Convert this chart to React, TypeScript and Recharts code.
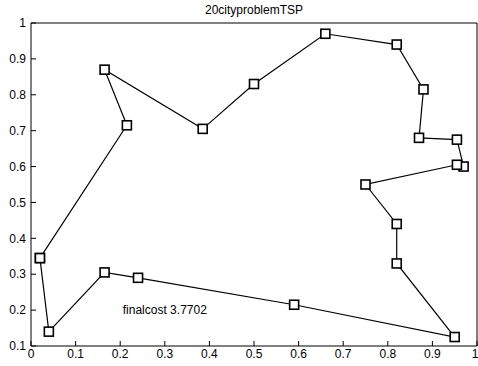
import React from "react";
import { ReferenceDot, Scatter, ScatterChart, XAxis, YAxis } from "recharts";

// city coordinates, in visiting order (tour closes back on the first city)
const tourX = [0.02, 0.215, 0.165, 0.385, 0.5, 0.66, 0.82, 0.88, 0.87, 0.955, 0.97, 0.955, 0.75, 0.82, 0.82, 0.95, 0.59, 0.24, 0.165, 0.04];
const tourY = [0.345, 0.715, 0.87, 0.705, 0.83, 0.97, 0.94, 0.815, 0.68, 0.675, 0.6, 0.605, 0.55, 0.44, 0.33, 0.125, 0.215, 0.29, 0.305, 0.14];

const xTicks = [0, 0.1, 0.2, 0.3, 0.4, 0.5, 0.6, 0.7, 0.8, 0.9, 1];
const yTicks = [0.1, 0.2, 0.3, 0.4, 0.5, 0.6, 0.7, 0.8, 0.9, 1];

const title = "20cityproblemTSP";
const costText = "finalcost 3.7702";

const FONT = "'Liberation Sans', Arial, sans-serif";

function SquareMarker(props: any) {
    const { cx, cy } = props;
    if (cx == null || cy == null) return null;
    return <rect x={cx - 4.5} y={cy - 4.5} width={9} height={9} fill="#fff" stroke="#000" strokeWidth={1.6} />;
}

const NoMarker = () => <g />;

export default function App() {
    const data = React.useMemo(() => {
        const pts = tourX.map((x, i) => ({ x, y: tourY[i] }));
        return [...pts, pts[0]];
    }, []);

    const tick = { fill: "#000", fontSize: 12, fontFamily: FONT };

    return (
        <div style={{ position: "absolute", left: 0, top: 0, width: 478, height: 366, background: "#fff" }}>
            <div
                style={{
                    position: "absolute",
                    left: 31,
                    width: 446,
                    top: 3,
                    textAlign: "center",
                    fontFamily: FONT,
                    fontSize: 12,
                    color: "#000",
                }}
            >
                {title}
            </div>
            <ScatterChart width={478} height={366} margin={{ top: 22, right: 0, bottom: 0, left: 0 }}>
                <XAxis
                    type="number"
                    dataKey="x"
                    domain={[0, 1]}
                    ticks={xTicks}
                    height={20}
                    tickSize={-5}
                    tickMargin={8}
                    tick={tick}
                    axisLine={{ stroke: "#000" }}
                    tickLine={{ stroke: "#000" }}
                    allowDataOverflow
                />
                <XAxis
                    xAxisId="top"
                    orientation="top"
                    type="number"
                    dataKey="x"
                    domain={[0, 1]}
                    ticks={xTicks}
                    height={1}
                    tickSize={-5}
                    tick={false}
                    axisLine={{ stroke: "#000" }}
                    tickLine={{ stroke: "#000" }}
                    allowDataOverflow
                />
                <YAxis
                    type="number"
                    dataKey="y"
                    domain={[0.1, 1]}
                    ticks={yTicks}
                    width={31}
                    tickSize={-5}
                    tickMargin={10}
                    tick={tick}
                    axisLine={{ stroke: "#000" }}
                    tickLine={{ stroke: "#000" }}
                    allowDataOverflow
                />
                <YAxis
                    yAxisId="right"
                    orientation="right"
                    type="number"
                    dataKey="y"
                    domain={[0.1, 1]}
                    ticks={yTicks}
                    width={1}
                    tickSize={-5}
                    tick={false}
                    axisLine={{ stroke: "#000" }}
                    tickLine={{ stroke: "#000" }}
                    allowDataOverflow
                />
                {/* invisible series so the box axes on top/right get drawn */}
                <Scatter
                    data={data}
                    dataKey="y"
                    xAxisId="top"
                    yAxisId="right"
                    shape={NoMarker}
                    isAnimationActive={false}
                />
                <Scatter
                    data={data}
                    dataKey="y"
                    line={{ stroke: "#000", strokeWidth: 1.2 }}
                    lineType="joint"
                    shape={SquareMarker}
                    isAnimationActive={false}
                />
                <ReferenceDot
                    x={0.3}
                    y={0.2}
                    r={0}
                    fill="none"
                    stroke="none"
                    label={{ value: costText, position: "center", fill: "#000", fontSize: 12, fontFamily: FONT }}
                />
            </ScatterChart>
        </div>
    );
}
